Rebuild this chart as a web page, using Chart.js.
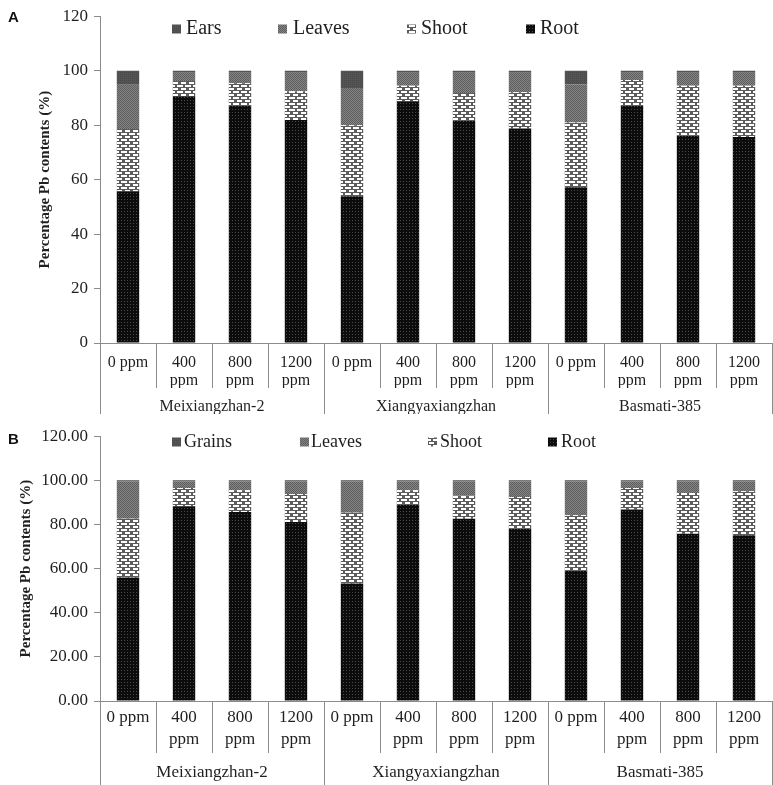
<!DOCTYPE html>
<html>
<head>
<meta charset="utf-8">
<script src="https://cdn.jsdelivr.net/npm/chart.js@4.4.1/dist/chart.umd.min.js"></script>
<style>
  body { margin: 0; background: #fff; width: 773px; height: 785px; overflow: hidden; position: relative; }
  .panel { position: absolute; left: 0; width: 773px; }
  #panelA { top: 0; height: 420px; }
  #panelB { top: 420px; height: 365px; }
  .tag { position: absolute; left: 8px; font: bold 15px 'Liberation Sans', sans-serif; color: #111; }
</style>
</head>
<body>
<div class="panel" id="panelA"><canvas id="chartA" width="773" height="420"></canvas></div>
<div class="panel" id="panelB"><canvas id="chartB" width="773" height="365"></canvas></div>
<div class="tag" style="top:8px">A</div>
<div class="tag" style="top:430px">B</div>
<script>
// categories (dose within each rice variety)
const doses = [['0 ppm'], ['400', 'ppm'], ['800', 'ppm'], ['1200', 'ppm']];
const varieties = ['Meixiangzhan-2', 'Xiangyaxiangzhan', 'Basmati-385'];
const categories = varieties.flatMap(() => doses);
const yTicks = [0, 20, 40, 60, 80, 100, 120];

// panel A – percentage Pb, order: M 0/400/800/1200, X ..., B ...
const rootA   = [55.7, 90.6, 87.2, 81.9, 53.9, 88.8, 81.5, 78.8, 57.2, 87.2, 76.1, 75.6];
const shootA  = [22.9, 5.6, 8.2, 10.5, 26.1, 5.7, 10.3, 13.3, 23.8, 9.4, 18.4, 18.9];
const leavesA = [16.2, 3.0, 3.8, 6.8, 13.6, 4.7, 7.4, 7.1, 14.0, 2.6, 4.7, 4.7];
const earsA   = [5.2, 0.8, 0.8, 0.8, 6.4, 0.8, 0.8, 0.8, 5.0, 0.8, 0.8, 0.8];

// panel B
const rootB   = [56.0, 88.3, 85.7, 81.1, 53.3, 89.0, 82.6, 78.1, 59.0, 86.8, 75.8, 75.1];
const shootB  = [26.6, 8.2, 9.8, 12.7, 32.0, 6.5, 10.5, 14.4, 25.2, 9.7, 18.5, 19.9];
const leavesB = [17.0, 3.1, 4.1, 5.8, 14.3, 4.1, 6.5, 7.1, 15.4, 3.1, 5.3, 4.6];
const grainsB = [0.4, 0.4, 0.4, 0.4, 0.4, 0.4, 0.4, 0.4, 0.4, 0.4, 0.4, 0.4];

const SERIF = "'Liberation Serif', 'Times New Roman', serif";
const TEXT = '#1f1f1f';
const LINE = '#8c8c8c';

// small tiled fills that imitate the Excel pattern fills
function makePattern(w, h, draw) {
    const c = document.createElement('canvas');
    c.width = w; c.height = h;
    const g = c.getContext('2d');
    draw(g);
    return g.createPattern(c, 'repeat');
}
const rootFill = makePattern(3, 3, g => {
    g.fillStyle = '#0c0c0c'; g.fillRect(0, 0, 3, 3);
    g.fillStyle = '#4a4a4a'; g.fillRect(1, 1, 1, 1);
});
const shootFill = makePattern(8, 6, g => {
    g.fillStyle = '#5c5c5c'; g.fillRect(0, 0, 8, 6);
    g.fillStyle = '#ffffff';
    g.fillRect(1, 1, 6, 2);
    g.fillRect(5, 4, 3, 2);
    g.fillRect(0, 4, 2, 2);
});
const leavesFill = makePattern(2, 2, g => {
    g.fillStyle = '#868686'; g.fillRect(0, 0, 2, 2);
    g.fillStyle = '#5c5c5c'; g.fillRect(0, 0, 1, 1); g.fillRect(1, 1, 1, 1);
});
const earsFill = makePattern(2, 2, g => {
    g.fillStyle = '#545454'; g.fillRect(0, 0, 2, 2);
    g.fillStyle = '#484848'; g.fillRect(0, 0, 1, 1);
});

// table-like separators under the x axis
const tableLines = {
    id: 'tableLines',
    afterDraw(chart) {
        const { ctx, chartArea } = chart;
        const x = chart.scales.x, x2 = chart.scales.x2;
        const n = categories.length, per = doses.length;
        ctx.save();
        ctx.strokeStyle = LINE;
        ctx.lineWidth = 1;
        for (let i = 0; i <= n; i++) {
            const px = Math.round(x.getPixelForValue(i - 0.5)) + 0.5;
            const bottom = i % per === 0 ? x2.bottom : x.bottom;
            ctx.beginPath();
            ctx.moveTo(px, chartArea.bottom);
            ctx.lineTo(px, bottom);
            ctx.stroke();
        }
        ctx.restore();
    }
};

// legend drawn inside the plot, in one row
const rowLegend = {
    id: 'rowLegend',
    afterDraw(chart, args, opts) {
        const { ctx } = chart;
        const sets = chart.data.datasets.slice().reverse();
        ctx.save();
        ctx.font = opts.font;
        ctx.textBaseline = 'middle';
        ctx.textAlign = 'left';
        sets.forEach((ds, i) => {
            const bx = opts.boxX[i];
            ctx.fillStyle = ds.backgroundColor;
            ctx.fillRect(bx, opts.y - 4.5, 9, 9);
            ctx.fillStyle = TEXT;
            ctx.fillText(ds.label, opts.textX[i], opts.y);
        });
        ctx.restore();
    }
};

function buildChart(id, sets, cfg) {
    const ctx = document.getElementById(id).getContext('2d');
    return new Chart(ctx, {
        type: 'bar',
        data: {
            labels: categories,
            datasets: sets.map(s => ({
                label: s[0],
                data: s[1],
                backgroundColor: s[2],
                borderWidth: 0,
                barPercentage: 0.4,
                categoryPercentage: 1
            }))
        },
        options: {
            responsive: false,
            animation: false,
            devicePixelRatio: 1,
            layout: { padding: cfg.padding },
            scales: {
                x: {
                    stacked: true,
                    offset: true,
                    weight: 0,
                    grid: { display: false, drawTicks: false },
                    border: { color: LINE },
                    ticks: {
                        color: TEXT, padding: cfg.xPad, maxRotation: 0, autoSkip: false,
                        font: { family: SERIF, size: cfg.xFont, lineHeight: cfg.xLine }
                    },
                    afterFit: s => { s.height = cfg.xHeight; }
                },
                x2: {
                    type: 'category',
                    labels: varieties,
                    position: 'bottom',
                    offset: true,
                    weight: 1,
                    grid: { display: false, drawTicks: false },
                    border: { display: false },
                    ticks: {
                        color: TEXT, padding: cfg.x2Pad, maxRotation: 0,
                        font: { family: SERIF, size: cfg.xFont, lineHeight: cfg.xLine }
                    },
                    afterFit: s => { s.height = cfg.x2Height; }
                },
                y: {
                    stacked: true,
                    min: 0,
                    max: 120,
                    afterBuildTicks: s => { s.ticks = yTicks.map(v => ({ value: v })); },
                    grid: { drawOnChartArea: false, drawTicks: true, tickLength: 6, color: LINE },
                    border: { color: LINE },
                    ticks: {
                        color: TEXT, padding: 6,
                        font: { family: SERIF, size: cfg.yFont },
                        callback: cfg.yFormat
                    },
                    title: {
                        display: true,
                        text: 'Percentage Pb contents (%)',
                        color: TEXT,
                        font: { family: SERIF, size: 15, weight: 'bold', lineHeight: 1.2 },
                        padding: { top: cfg.titleOffset, bottom: 0 }
                    },
                    afterFit: s => { s.width = 100; }
                }
            },
            plugins: {
                legend: { display: false },
                tooltip: { enabled: false },
                rowLegend: cfg.legend
            }
        },
        plugins: [tableLines, rowLegend]
    });
}

buildChart('chartA', [
    ['Root', rootA, rootFill],
    ['Shoot', shootA, shootFill],
    ['Leaves', leavesA, leavesFill],
    ['Ears', earsA, earsFill]
], {
    padding: { top: 10, right: 1, bottom: 6, left: 0 },
    xFont: 16, xLine: 1.1, xPad: 11, xHeight: 45, x2Pad: 10, x2Height: 26,
    yFont: 17, titleOffset: 36,
    yFormat: v => String(v),
    legend: { y: 29, font: "20px " + SERIF, boxX: [172, 278, 407, 526], textX: [186, 293, 421, 540] }
});

buildChart('chartB', [
    ['Root', rootB, rootFill],
    ['Shoot', shootB, shootFill],
    ['Leaves', leavesB, leavesFill],
    ['Grains', grainsB, earsFill]
], {
    padding: { top: 14, right: 1, bottom: 0, left: 0 },
    xFont: 17, xLine: 1.3, xPad: 5, xHeight: 52, x2Pad: 8, x2Height: 32,
    yFont: 17, titleOffset: 17,
    yFormat: v => Number(v).toFixed(2),
    legend: { y: 22, font: "18px " + SERIF, boxX: [172, 300, 428, 548], textX: [184, 311, 440, 561] }
});
</script>
</body>
</html>
